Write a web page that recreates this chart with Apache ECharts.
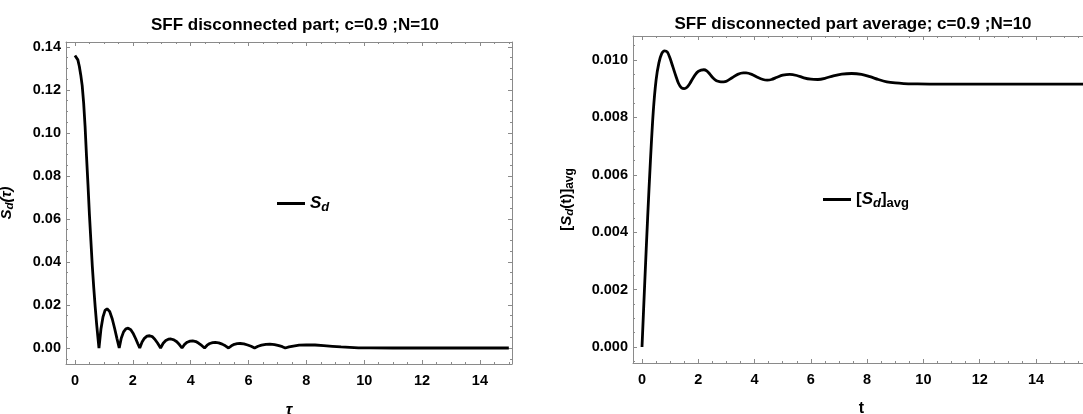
<!DOCTYPE html>
<html>
<head>
<meta charset="utf-8">
<script src="https://cdn.jsdelivr.net/npm/echarts@6/dist/echarts.min.js"></script>
<style>
  html, body { margin: 0; background: #fff; }
  #chart { width: 1083px; height: 414px; }
</style>
</head>
<body>
<div id="chart"></div>
<script>
// left panel: S_d(tau)
const tauVals = [0, 0.05, 0.1, 0.15, 0.2, 0.25, 0.3, 0.35, 0.4, 0.45, 0.5, 0.55, 0.6, 0.65, 0.7, 0.75, 0.8, 0.83,
  0.9, 0.97, 1.04, 1.11, 1.2, 1.29, 1.37, 1.45, 1.53,
  1.6, 1.68, 1.76, 1.84, 1.93, 2.02, 2.1, 2.17, 2.24,
  2.32, 2.4, 2.49, 2.58, 2.67, 2.76, 2.86, 2.96,
  3.05, 3.14, 3.23, 3.32, 3.42, 3.52, 3.61, 3.7,
  3.79, 3.88, 3.98, 4.07, 4.18, 4.28, 4.38, 4.48,
  4.57, 4.66, 4.76, 4.85, 4.97, 5.09, 5.2, 5.31,
  5.41, 5.51, 5.61, 5.71, 5.84, 5.97, 6.09, 6.21,
  6.33, 6.45, 6.6, 6.74, 6.9, 7.05, 7.17, 7.27,
  7.4, 7.55, 7.75, 8.0, 8.3, 8.6, 8.9, 9.2, 9.5, 9.8, 10.2, 11, 15];
const sdVals = [0.136, 0.1355, 0.134, 0.131, 0.127, 0.122, 0.114, 0.103, 0.089, 0.076, 0.062, 0.05, 0.038, 0.028, 0.019, 0.011, 0.004, 0,
  0.009, 0.0145, 0.0175, 0.0182, 0.017, 0.0135, 0.0092, 0.0045, 0,
  0.0045, 0.0075, 0.0089, 0.0092, 0.0085, 0.0066, 0.0043, 0.0021, 0,
  0.0028, 0.0045, 0.0055, 0.0057, 0.0053, 0.0041, 0.0022, 0,
  0.0022, 0.0035, 0.0041, 0.0042, 0.0038, 0.0029, 0.0016, 0,
  0.0017, 0.0027, 0.0032, 0.0033, 0.003, 0.0022, 0.0012, 0,
  0.0013, 0.0021, 0.0025, 0.0026, 0.0024, 0.0018, 0.001, 0,
  0.001, 0.0017, 0.002, 0.0021, 0.0019, 0.0014, 0.0008, 0,
  0.0008, 0.0013, 0.0017, 0.0018, 0.0016, 0.0011, 0.0006, 0,
  0.0005, 0.0009, 0.0013, 0.0015, 0.0014, 0.0011, 0.0008, 0.0005, 0.0003, 0.0001, 0.00003, 0, 0];

// right panel: [S_d(t)]_avg
const tVals = [0, 0.1, 0.2, 0.3, 0.4, 0.5, 0.6, 0.7, 0.8, 0.9, 1.0, 1.1, 1.2, 1.3, 1.4, 1.5, 1.6, 1.7, 1.8, 1.9,
  2.0, 2.1, 2.2, 2.3, 2.4, 2.5, 2.6, 2.7, 2.8, 2.9, 3.0, 3.2, 3.4, 3.6, 3.7, 3.9, 4.1, 4.3, 4.45, 4.6,
  4.8, 5.0, 5.25, 5.5, 5.75, 6.0, 6.25, 6.5, 6.8, 7.1, 7.45, 7.8, 8.1, 8.4, 8.7, 9.0, 9.3, 9.7, 10.5, 12, 16];
const avgVals = [0, 0.0023, 0.0045, 0.0065, 0.0082, 0.0093, 0.0099, 0.01022, 0.01032, 0.01028, 0.01005, 0.00975, 0.00945, 0.00918, 0.00903, 0.009, 0.00905, 0.00918, 0.00935, 0.0095,
  0.0096, 0.00965, 0.00966, 0.00962, 0.00952, 0.0094, 0.00931, 0.00926, 0.00924, 0.00924, 0.00926, 0.00938, 0.0095, 0.00955, 0.00955, 0.0095, 0.0094, 0.00932, 0.0093, 0.00932,
  0.0094, 0.00947, 0.0095, 0.00946, 0.00938, 0.00933, 0.00932, 0.00936, 0.00945, 0.00951, 0.00953, 0.0095, 0.00942, 0.00932, 0.00924, 0.0092, 0.00918, 0.00917, 0.00916, 0.00916, 0.00916];

// tick values
const xMajor = [0, 2, 4, 6, 8, 10, 12, 14];
const xMinorLeft = [0.5, 1, 1.5, 2.5, 3, 3.5, 4.5, 5, 5.5, 6.5, 7, 7.5, 8.5, 9, 9.5, 10.5, 11, 11.5, 12.5, 13, 13.5, 14.5, 15];
const xMinorRight = xMinorLeft.concat([15.5]);
const yMajorLeft = [0, 0.02, 0.04, 0.06, 0.08, 0.1, 0.12, 0.14];
const yMajorRight = [0, 0.002, 0.004, 0.006, 0.008, 0.01];

const FONT = 'Liberation Sans';
const frameColor = '#8a8a8a';

const minorBetween = (majors, step, min, max) => {
  const out = [];
  for (let v = majors[0] - step * 4; v <= max + 1e-12; v += step) {
    const r = Math.round(v / step) * step;
    if (r > min && r < max && !majors.some(m => Math.abs(m - r) < step / 10)) out.push(+r.toFixed(6));
  }
  return out;
};
const yMinorLeft = minorBetween(yMajorLeft, 0.005, -0.00744, 0.1423);
const yMinorRight = minorBetween(yMajorRight, 0.0005, -0.000557, 0.010836);

const labelStyle = { color: '#000', fontFamily: FONT, fontWeight: 'bold', fontSize: 14.5 };

// frame: main side with labels, opposite side ticks only (left out when off-canvas)
function frameAxes(kind, grid, min, max, majors, minors, label, extra, hideOpposite) {
  const sides = kind === 'x' ? ['bottom', 'top'] : ['left', 'right'];
  const axes = [];
  sides.forEach((pos, i) => {
    if (i === 1 && hideOpposite) return;
    [majors, minors].forEach((vals, j) => {
      const ax = {
        type: 'value', gridIndex: grid, position: pos, min: min, max: max,
        axisLine: { show: j === 0, onZero: false, lineStyle: { color: frameColor, width: 1 } },
        axisTick: { show: true, inside: true, length: j === 0 ? 4 : 2, customValues: vals,
          lineStyle: { color: frameColor, width: 1 } },
        axisLabel: (i === 0 && j === 0) ? Object.assign({ customValues: majors }, label) : { show: false },
        splitLine: { show: false },
        minorTick: { show: false }
      };
      if (i === 0 && j === 0 && extra) Object.assign(ax, extra);
      axes.push(ax);
    });
  });
  return axes;
}

const xLeft = frameAxes('x', 0, -0.31, 15.11, xMajor, xMinorLeft,
  Object.assign({ margin: 9, formatter: v => String(v) }, labelStyle),
  { name: 'τ', nameLocation: 'middle', nameGap: 39,
    nameTextStyle: { color: '#000', fontFamily: FONT, fontWeight: 'bold', fontStyle: 'italic', fontSize: 16 } });
const xRight = frameAxes('x', 1, -0.32, 15.92, xMajor, xMinorRight,
  Object.assign({ margin: 9, formatter: v => String(v) }, labelStyle),
  { name: 't', nameLocation: 'middle', nameGap: 38,
    nameTextStyle: { color: '#000', fontFamily: FONT, fontWeight: 'bold', fontSize: 16 } });

const nameRich = {
  i: { fontFamily: FONT, fontWeight: 'bold', fontStyle: 'italic', fontSize: 15, color: '#000' },
  u: { fontFamily: FONT, fontWeight: 'bold', fontSize: 15, color: '#000' },
  sub: { fontFamily: FONT, fontWeight: 'bold', fontStyle: 'italic', fontSize: 11.5, color: '#000', padding: [6, 0, 0, 0] },
  subu: { fontFamily: FONT, fontWeight: 'bold', fontSize: 12, color: '#000', padding: [7, 0, 0, 0] }
};

const yLeft = frameAxes('y', 0, -0.00744, 0.1423, yMajorLeft, yMinorLeft,
  Object.assign({ margin: 5, formatter: v => v.toFixed(2) }, labelStyle),
  { name: '{i|S}{sub|d}{i|(τ)}', nameLocation: 'middle', nameGap: 50,
    nameTextStyle: { rich: nameRich } });
const yRight = frameAxes('y', 1, -0.000557, 0.010836, yMajorRight, yMinorRight,
  Object.assign({ margin: 5, formatter: v => v.toFixed(3) }, labelStyle),
  { name: '{u|[}{i|S}{sub|d}{u|(t)]}{subu|avg}', nameLocation: 'middle', nameGap: 57,
    nameTextStyle: { rich: nameRich } }, true);

const legendRich = {
  i: { fontFamily: FONT, fontWeight: 'bold', fontStyle: 'italic', fontSize: 17, color: '#000' },
  u: { fontFamily: FONT, fontWeight: 'bold', fontSize: 17, color: '#000' },
  sub: { fontFamily: FONT, fontWeight: 'bold', fontStyle: 'italic', fontSize: 13, color: '#000', padding: [8, 0, 0, 0] },
  subu: { fontFamily: FONT, fontWeight: 'bold', fontSize: 13, color: '#000', padding: [8, 0, 0, 0] }
};

const chart = echarts.init(document.getElementById('chart'), null, { renderer: 'canvas' });
chart.setOption({
  animation: false,
  backgroundColor: '#fff',
  title: [
    { text: 'SFF disconnected part; c=0.9 ;N=10', left: 290, top: 12, textAlign: 'center',
      textStyle: { color: '#000', fontFamily: FONT, fontWeight: 'bold', fontSize: 17 } },
    { text: 'SFF disconnected part average; c=0.9 ;N=10', left: 848, top: 11, textAlign: 'center',
      textStyle: { color: '#000', fontFamily: FONT, fontWeight: 'bold', fontSize: 17 } }
  ],
  legend: [
    { data: ['Sd'], left: 272, top: 190, icon: 'rect', itemWidth: 28, itemHeight: 3, selectedMode: false,
      formatter: () => '{i|S}{sub|d}', textStyle: { rich: legendRich } },
    { data: ['SdAvg'], left: 818, top: 186, icon: 'rect', itemWidth: 28, itemHeight: 3, selectedMode: false,
      formatter: () => '{u|[}{i|S}{sub|d}{u|]}{subu|avg}', textStyle: { rich: legendRich } }
  ],
  grid: [
    { left: 66, top: 42, width: 446, height: 322, outerBoundsMode: 'none' },
    { left: 633, top: 36, width: 457, height: 327, outerBoundsMode: 'none' }
  ],
  xAxis: xLeft.concat(xRight),
  yAxis: yLeft.concat(yRight),
  series: [
    { name: 'Sd', type: 'line', xAxisIndex: 0, yAxisIndex: 0, showSymbol: false, clip: true,
      lineStyle: { color: '#000', width: 2.8 }, itemStyle: { color: '#000' },
      data: tauVals.map((x, i) => [x, sdVals[i]]) },
    { name: 'SdAvg', type: 'line', xAxisIndex: 4, yAxisIndex: 4, showSymbol: false, clip: true, smooth: 0.3,
      lineStyle: { color: '#000', width: 2.8 }, itemStyle: { color: '#000' },
      data: tVals.map((x, i) => [x, avgVals[i]]) }
  ]
});
</script>
</body>
</html>
